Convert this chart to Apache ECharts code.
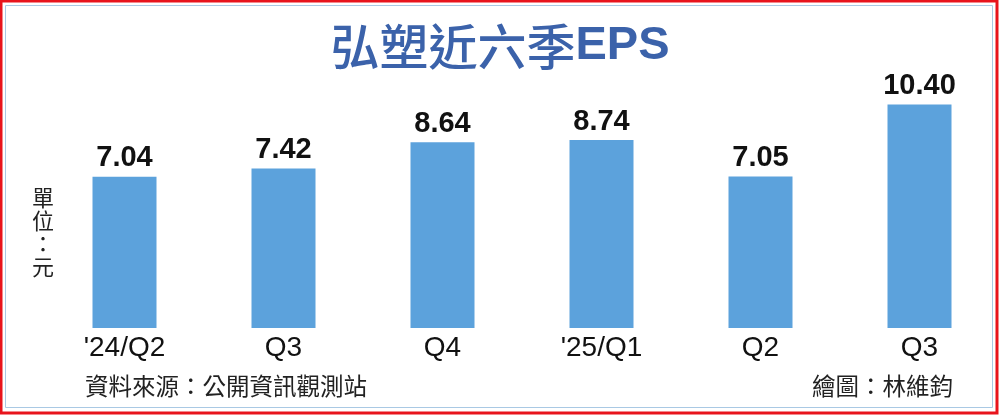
<!DOCTYPE html>
<html><head><meta charset="utf-8">
<script src="https://cdn.jsdelivr.net/npm/echarts@6/dist/echarts.min.js"></script>
<style>html,body{margin:0;padding:0;background:#fff}#c{width:1000px;height:415px}</style>
</head><body><div id="c"></div>
<script>
const categories = ["'24/Q2", "Q3", "Q4", "'25/Q1", "Q2", "Q3"];
const epsValues = [7.04, 7.42, 8.64, 8.74, 7.05, 10.40];
const titleCJK = "弘塑近六季";
const titleLatin = "EPS";
const unitText = "單\n位\n：\n元";
const sourceText = "資料來源：公開資訊觀測站";
const creditText = "繪圖：林維鈞";

const chart = echarts.init(document.getElementById('c'), null, {renderer: 'canvas'});
chart.setOption({
  animation: false,
  backgroundColor: '#fff',
  grid: {left: 45, right: 1, top: 70, bottom: 87},
  xAxis: {
    type: 'category', data: categories,
    axisLine: {show: false}, axisTick: {show: false},
    axisLabel: {interval: 0, margin: 6, color: '#111', fontSize: 28,
      fontFamily: 'Liberation Sans, Arial, sans-serif'}
  },
  yAxis: {type: 'value', min: 0, max: 12, show: false, splitLine: {show: false}},
  series: [{
    type: 'bar', data: epsValues, barWidth: 64,
    itemStyle: {color: '#5ca2dc'},
    label: {show: true, position: 'top', distance: 4, color: '#111',
      fontSize: 29, fontWeight: 'bold', fontFamily: 'Liberation Sans, Arial, sans-serif',
      formatter: p => p.value.toFixed(2)}
  }],
  graphic: [
    {type: 'rect', shape: {x: 1, y: 1, width: 996, height: 412}, style: {fill: null, stroke: '#e8141c', lineWidth: 3}},
    {type: 'rect', shape: {x: 5.5, y: 5.5, width: 987, height: 402}, style: {fill: null, stroke: '#a9c9e4', lineWidth: 1}},
    {type: 'text', left: 'center', top: 22, style: {
      text: '{c|' + titleCJK + '}{e|' + titleLatin + '}',
      rich: {
        c: {fill: '#3b62aa', fontSize: 49, fontWeight: 500, fontFamily: '"Noto Sans CJK TC", sans-serif'},
        e: {fill: '#3b62aa', fontSize: 47, fontWeight: 'bold', fontFamily: 'Liberation Sans, Arial, sans-serif'}
      }}},
    {type: 'text', x: 43, y: 232, style: {text: unitText, fill: '#222', align: 'center', verticalAlign: 'middle',
      font: '22px "Noto Sans CJK TC", sans-serif', lineHeight: 23}},
    {type: 'text', x: 85, y: 386, style: {text: sourceText, fill: '#222', verticalAlign: 'middle',
      font: '23.5px "Noto Sans CJK TC", sans-serif'}},
    {type: 'text', x: 953, y: 386, style: {text: creditText, fill: '#222', align: 'right', verticalAlign: 'middle',
      font: '23.5px "Noto Sans CJK TC", sans-serif'}}
  ]
});
</script></body></html>
